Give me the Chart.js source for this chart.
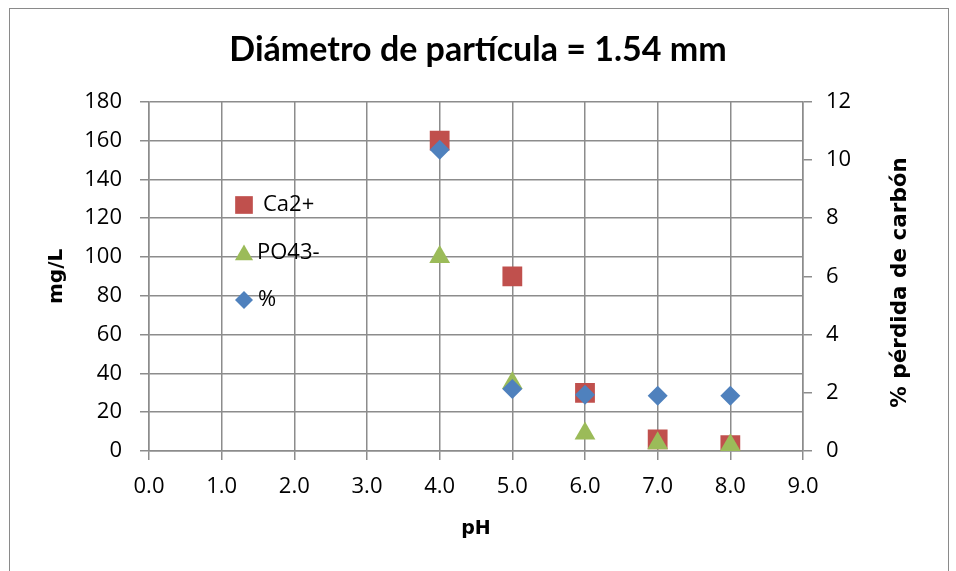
<!DOCTYPE html>
<html>
<head>
<meta charset="utf-8">
<script src="https://cdn.jsdelivr.net/npm/chart.js@4.4.1/dist/chart.umd.min.js"></script>
<style>
  html, body { margin: 0; padding: 0; background: #fff; }
  #frame { position: absolute; left: 9px; top: 8px; width: 938px; height: 600px; border: 1px solid #8a8a8a; }
  #wrap { position: absolute; left: 0; top: 0; width: 956px; height: 571px; }
</style>
</head>
<body>
<div id="frame"></div>
<div id="wrap"><canvas id="chart" width="956" height="571"></canvas></div>
<script>
// Datos
const phValues = [4, 5, 6, 7, 8];
const calcio = [160, 90, 30, 6, 3];
const fosfato = [100, 35, 9, 4, 3];
const perdida = [10.35, 2.13, 1.93, 1.9, 1.9];

const labels = ['Ca2+', 'PO43-', '%'];
const colores = ['#C0504D', '#9BBB59', '#4F81BD'];

const FONT = '"Open Sans", Lato, sans-serif';
const TITLE_FONT = 'Lato, "Open Sans", sans-serif';
const AXIS_FONT = '"DejaVu Sans", sans-serif';

function toPoints(xs, ys) {
    return xs.map((x, i) => ({ x: x, y: ys[i] }));
}

// Leyenda dentro del área y título del eje derecho
const extras = {
    id: 'extras',
    afterDraw(chart) {
        const ctx = chart.ctx;
        const area = chart.chartArea;
        ctx.save();

        // leyenda
        const estilos = ['rect', 'triangle', 'rectRot'];
        const radios = [12.5, 10.5, 9];
        const ys = [205, 253, 300];
        const textX = [263, 257, 258];
        ctx.font = '22px ' + FONT;
        ctx.textBaseline = 'middle';
        for (let i = 0; i < labels.length; i++) {
            ctx.fillStyle = colores[i];
            ctx.strokeStyle = colores[i];
            Chart.helpers.drawPoint(ctx, { pointStyle: estilos[i], radius: radios[i], borderWidth: 0, rotation: 0 }, 244, ys[i] + (i === 1 ? 2 : 0));
            ctx.fillStyle = '#000';
            ctx.textAlign = 'left';
            ctx.fillText(labels[i], textX[i], ys[i]);
        }

        // título eje derecho (de abajo hacia arriba)
        ctx.translate(900, (area.top + area.bottom) / 2 + 6);
        ctx.rotate(-Math.PI / 2);
        ctx.font = 'bold 21.5px ' + AXIS_FONT;
        ctx.textAlign = 'center';
        ctx.textBaseline = 'middle';
        ctx.fillText('% pérdida de carbón', 0, 0);
        ctx.restore();
    }
};

const gridColor = '#8c8c8c';
const tickFont = { family: FONT, size: 22 };

new Chart(document.getElementById('chart'), {
    type: 'scatter',
    data: {
        datasets: [
            {
                label: labels[0],
                data: toPoints(phValues, calcio),
                pointStyle: 'rect',
                pointRadius: 14,
                backgroundColor: colores[0],
                borderColor: colores[0],
                borderWidth: 0,
                yAxisID: 'y',
                order: 2
            },
            {
                label: labels[1],
                data: toPoints(phValues, fosfato),
                pointStyle: 'triangle',
                pointRadius: 12,
                backgroundColor: colores[1],
                borderColor: colores[1],
                borderWidth: 0,
                yAxisID: 'y',
                order: 1
            },
            {
                label: labels[2],
                data: toPoints(phValues, perdida),
                pointStyle: 'rectRot',
                pointRadius: 10,
                backgroundColor: colores[2],
                borderColor: colores[2],
                borderWidth: 0,
                yAxisID: 'y1',
                order: 0
            }
        ]
    },
    options: {
        responsive: false,
        animation: false,
        layout: { padding: 0 },
        plugins: {
            legend: { display: false },
            tooltip: { enabled: false },
            title: {
                display: true,
                text: 'Diámetro de partícula = 1.54 mm',
                color: '#000',
                font: { family: TITLE_FONT, size: 34, weight: 'bold' },
                padding: { top: 30, bottom: 31 }
            }
        },
        scales: {
            x: {
                type: 'linear',
                min: 0,
                max: 9,
                ticks: {
                    stepSize: 1,
                    color: '#000',
                    font: tickFont,
                    padding: 14,
                    callback: v => v.toFixed(1)
                },
                grid: { color: gridColor, lineWidth: 1.5, tickLength: 9 },
                border: { color: gridColor, width: 1.5 },
                title: {
                    display: true,
                    text: 'pH',
                    color: '#000',
                    font: { family: AXIS_FONT, size: 19, weight: 'bold' },
                    padding: { top: 0, bottom: 31 }
                },
                afterFit: s => { s.height = 120; }
            },
            y: {
                position: 'left',
                min: 0,
                max: 180,
                ticks: {
                    stepSize: 20,
                    color: '#000',
                    font: tickFont,
                    padding: 18
                },
                grid: { color: gridColor, lineWidth: 1.5, tickLength: 9 },
                border: { color: gridColor, width: 1.5 },
                title: {
                    display: true,
                    text: 'mg/L',
                    color: '#000',
                    font: { family: AXIS_FONT, size: 20, weight: 'bold' },
                    padding: { top: 45, bottom: 0 }
                },
                afterFit: s => { s.width = 149; }
            },
            y1: {
                position: 'right',
                min: 0,
                max: 12,
                ticks: {
                    stepSize: 2,
                    color: '#000',
                    font: tickFont,
                    padding: 14
                },
                grid: { drawOnChartArea: false, color: gridColor, lineWidth: 1.5, tickLength: 9 },
                border: { color: gridColor, width: 1.5 },
                afterFit: s => { s.width = 153; }
            }
        }
    },
    plugins: [extras]
});
</script>
</body>
</html>
